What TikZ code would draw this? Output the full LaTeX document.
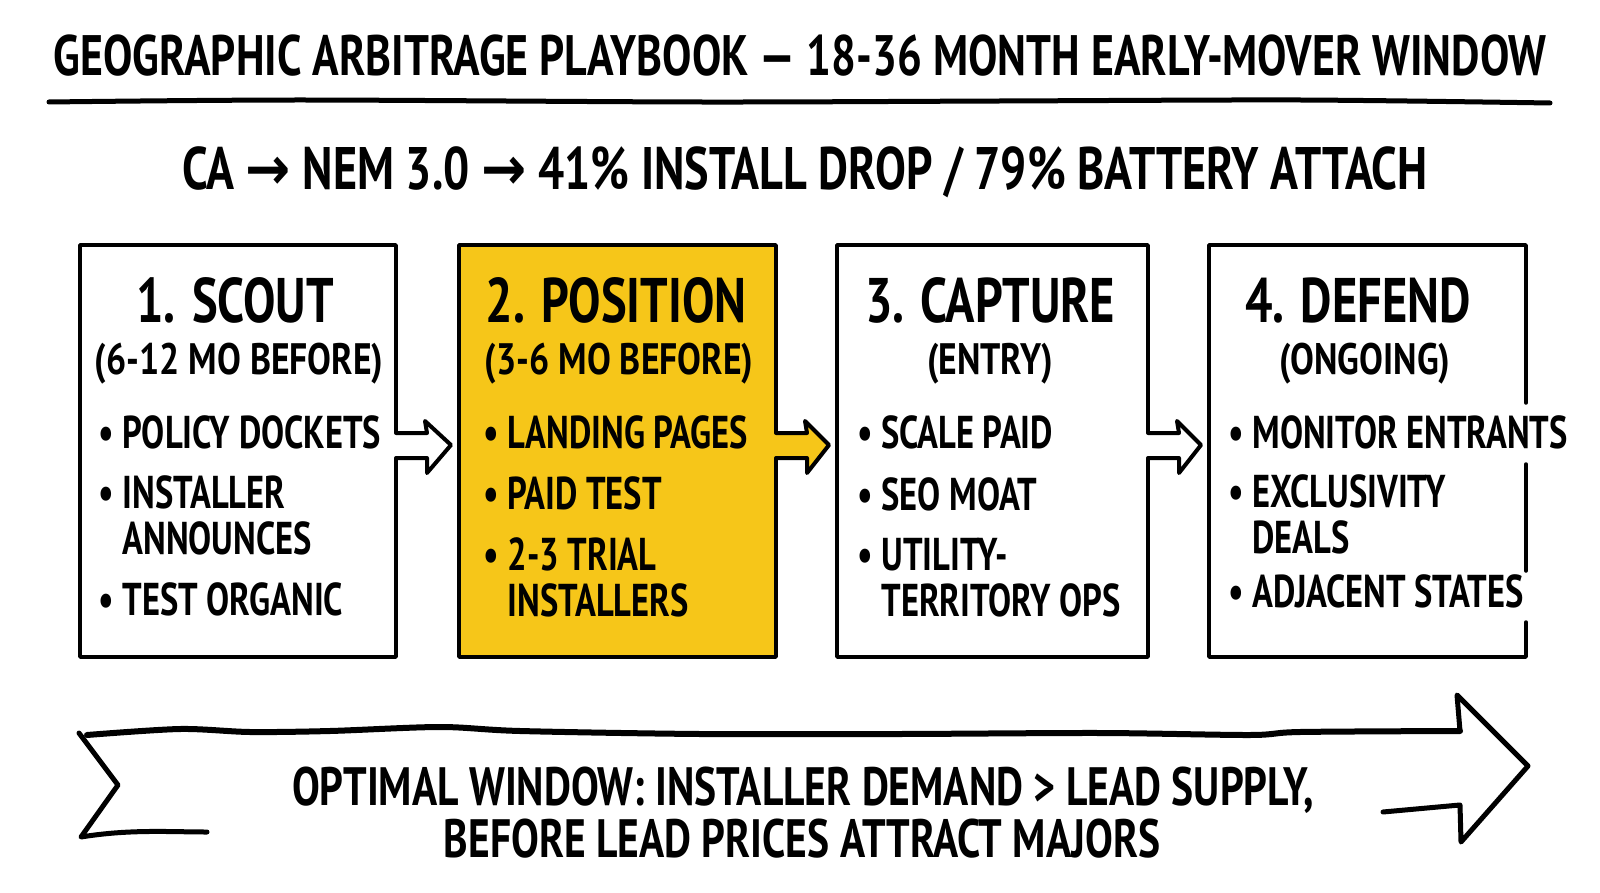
\documentclass[tikz,border=0pt]{standalone}
\usepackage{fontspec}
\setmainfont[FakeStretch=0.77]{PT Sans}
\newfontfamily\listfont[FakeStretch=0.75]{PT Sans}
\newfontfamily\widefont[FakeStretch=0.81]{PT Sans}
\newfontfamily\arrowfont[FakeStretch=0.9]{DejaVu Sans}
\usetikzlibrary{calc}
\definecolor{stageyellow}{HTML}{F6C619}

% block arrow from box #1 to box #2, filled with #3
\newcommand{\flowarrow}[3]{%
  \fill[#3] ($(#1.east)+(-2.5,-18)$) -- ($(#1.east)+(31,-18)$) -- ($(#1.east)+(29,-30)$) -- ($(#2.west)+(-8,-6)$) -- ($(#1.east)+(31,22)$) -- ($(#1.east)+(31,7)$) -- ($(#1.east)+(-2.5,7)$) -- cycle;
  \draw[flowline] ($(#1.east)+(0,-18)$) -- ($(#1.east)+(31,-18)$) -- ($(#1.east)+(29,-30)$) -- ($(#2.west)+(-8,-6)$) -- ($(#1.east)+(31,22)$) -- ($(#1.east)+(31,7)$) -- ($(#1.east)+(0,7)$);}
\newcommand{\wrapline}[2]{\begin{tabular}[t]{@{}l@{}}#1\\#2\end{tabular}}

\begin{document}
\begin{tikzpicture}[x=1pt,y=1pt,yscale=-1,xscale=1,
  boxline/.style={line width=3.5pt,line cap=round,line join=round},
  stagebox/.style={boxline,draw=black,minimum width=#1,minimum height=412pt,anchor=north west,inner sep=0pt,outer sep=0pt},
  flowline/.style={line width=4pt,line cap=round,line join=round},
  titletext/.style={anchor=base,inner sep=0pt,font=\fontsize{57}{60}\selectfont\bfseries},
  headtext/.style={anchor=base,inner sep=0pt,font=\fontsize{63}{66}\selectfont\bfseries},
  whentext/.style={anchor=base,inner sep=0pt,font=\widefont\fontsize{44}{46}\selectfont\bfseries},
  bullettext/.style={anchor=base west,inner sep=0pt,font=\listfont\fontsize{46}{45}\selectfont\bfseries},
  windowtext/.style={anchor=base,inner sep=0pt,font=\fontsize{54}{56}\selectfont\bfseries}]
%set diagram to the size of the reference
\fill[white] (0,0) rectangle (1600,893);
\useasboundingbox (0,0) rectangle (1600,893);

% Title and underline
\node[titletext] (title) at (800,76) {GEOGRAPHIC ARBITRAGE PLAYBOOK — 18-36 MONTH EARLY-MOVER WINDOW};
\draw[line width=5pt,line cap=round] plot[smooth] coordinates {(49,102) (300,100) (700,102) (1000,101) (1300,100) (1550,103)};

% Subtitle
\node[titletext,font=\fontsize{60}{62}\selectfont\bfseries] (subtitle) at (805,190) {CA {\arrowfont →} NEM 3.0 {\arrowfont →} 41\% INSTALL DROP / 79\% BATTERY ATTACH};

%Shape: Rectangle [stage 1]
\node[stagebox=316pt] (scout) at (80,245) {};
%Shape: Rectangle [stage 2]
\node[stagebox=317pt,fill=stageyellow] (position) at (459,245) {};
%Shape: Rectangle [stage 3]
\node[stagebox=311pt] (capture) at (837,245) {};
%Shape: Rectangle [stage 4, right edge broken]
\node[stagebox=317pt,draw=none] (defend) at (1209,245) {};
\draw[boxline] ($(defend.south east)+(0,-35)$) -- (defend.south east) -- (defend.south west) -- (defend.north west) -- (defend.north east) -- ($(defend.north east)+(0,158)$);
\draw[boxline] ($(defend.north east)+(0,219)$) -- ($(defend.north east)+(0,326)$);

% Arrows between stages
\flowarrow{scout}{position}{white}
\flowarrow{position}{capture}{stageyellow}
\flowarrow{capture}{defend}{white}

% Text Node
\node[headtext] (scouthead) at (235,322) {1. SCOUT};
\node[whentext] (scoutwhen) at (239,374) {(6-12 MO BEFORE)};
\node[bullettext] (scouta) at (98,448) {• POLICY DOCKETS};
\node[bullettext] (scoutb) at (98,508) {• \wrapline{INSTALLER}{ANNOUNCES}};
\node[bullettext] (scoutc) at (98,615) {• TEST ORGANIC};

% Text Node
\node[headtext] (positionhead) at (616,322) {2. POSITION};
\node[whentext] (positionwhen) at (619,374) {(3-6 MO BEFORE)};
\node[bullettext] (positiona) at (483,448) {• LANDING PAGES};
\node[bullettext] (positionb) at (483,509) {• PAID TEST};
\node[bullettext] (positionc) at (483,570) {• \wrapline{2-3 TRIAL}{INSTALLERS}};

% Text Node
\node[headtext] (capturehead) at (990,322) {3. CAPTURE};
\node[whentext] (capturewhen) at (990,374) {(ENTRY)};
\node[bullettext] (capturea) at (857,448) {• SCALE PAID};
\node[bullettext] (captureb) at (857,510) {• SEO MOAT};
\node[bullettext] (capturec) at (857,570) {• \wrapline{UTILITY-}{TERRITORY OPS}};

% Text Node
\node[headtext] (defendhead) at (1358,322) {4. DEFEND};
\node[whentext] (defendwhen) at (1365,374) {(ONGOING)};
\node[bullettext] (defenda) at (1228,448) {• MONITOR ENTRANTS};
\node[bullettext] (defendb) at (1228,507) {• \wrapline{EXCLUSIVITY}{DEALS}};
\node[bullettext] (defendc) at (1228,607) {• ADJACENT STATES};

%Shape: Ribbon arrow
\draw[line width=6pt,line cap=round] plot[smooth] coordinates {(87,735) (180,729) (250,732) (330,731) (440,727) (520,731) (700,734) (900,734) (1100,733) (1250,735) (1300,732) (1460,731)};
\draw[line width=5pt,line cap=round,line join=round] (1460,731) -- (1457,695) -- (1528,766) -- (1461,842) -- (1460,805) -- (1383,812);
\draw[line width=5pt,line cap=round,line join=round] (79,733) -- (118,785) -- (81,837) .. controls (130,829) and (170,832) .. (207,832);

% Text Node
\node[windowtext] (windowa) at (803,805) {OPTIMAL WINDOW: INSTALLER DEMAND > LEAD SUPPLY,};
\node[windowtext] (windowb) at (802,857) {BEFORE LEAD PRICES ATTRACT MAJORS};
\end{tikzpicture}
\end{document}
